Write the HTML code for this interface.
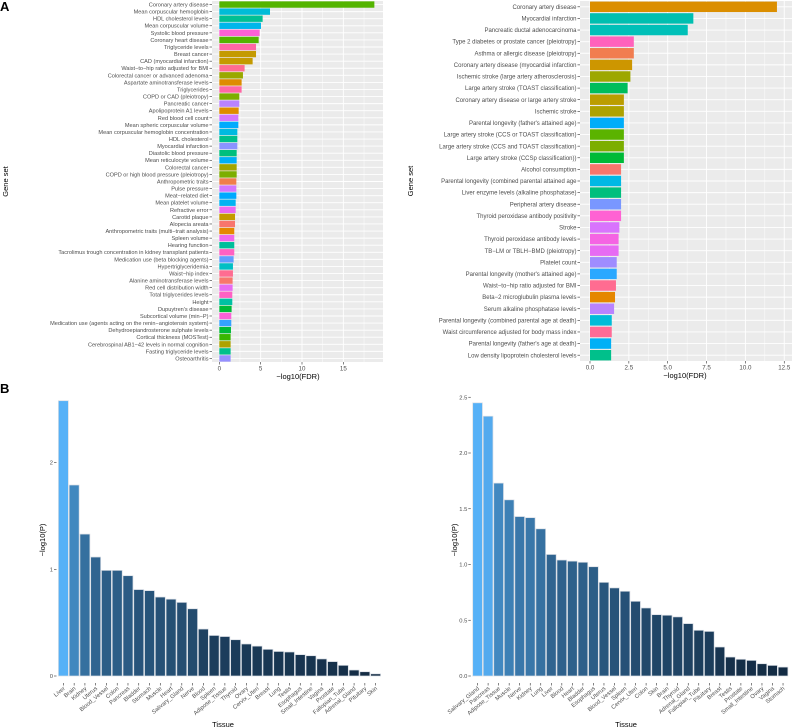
<!DOCTYPE html>
<html><head><meta charset="utf-8"><style>
html,body{margin:0;padding:0;background:#fff;}
svg{display:block;font-family:"Liberation Sans",sans-serif;}
</style></head><body>
<svg id="fig" width="792" height="728" viewBox="0 0 792 728"></svg>
<script>
// ---- Panel A left data ----
const aLeftLabels = ["Coronary artery disease","Mean corpuscular hemoglobin","HDL cholesterol levels","Mean corpuscular volume","Systolic blood pressure","Coronary heart disease","Triglyceride levels","Breast cancer","CAD (myocardial infarction)","Waist\u2212to\u2212hip ratio adjusted for BMI","Colorectal cancer or advanced adenoma","Aspartate aminotransferase levels","Triglycerides","COPD or CAD (pleiotropy)","Pancreatic cancer","Apolipoprotein A1 levels","Red blood cell count","Mean spheric corpuscular volume","Mean corpuscular hemoglobin concentration","HDL cholesterol","Myocardial infarction","Diastolic blood pressure","Mean reticulocyte volume","Colorectal cancer","COPD or high blood pressure (pleiotropy)","Anthropometric traits","Pulse pressure","Meat\u2212related diet","Mean platelet volume","Refractive error","Carotid plaque","Alopecia areata","Anthropometric traits (multi\u2212trait analysis)","Spleen volume","Hearing function","Tacrolimus trough concentration in kidney transplant patients","Medication use (beta blocking agents)","Hypertriglyceridemia","Waist\u2212hip index","Alanine aminotransferase levels","Red cell distribution width","Total triglycerides levels","Height","Dupuytren's disease","Subcortical volume (min\u2212P)","Medication use (agents acting on the renin\u2212angiotensin system)","Dehydroepiandrosterone sulphate levels","Cortical thickness (MOSTest)","Cerebrospinal AB1\u221242 levels in normal cognition","Fasting triglyceride levels","Osteoarthritis"];
const aLeftValues = [18.75,6.13,5.24,5.04,4.88,4.76,4.44,4.44,4.03,3.06,2.86,2.7,2.7,2.42,2.42,2.34,2.3,2.3,2.18,2.18,2.18,2.1,2.1,2.1,2.1,2.06,2.06,2.06,1.98,1.98,1.9,1.9,1.81,1.81,1.81,1.81,1.73,1.65,1.65,1.61,1.61,1.57,1.57,1.49,1.45,1.45,1.41,1.37,1.37,1.37,1.37];
const aLeftColors = ["#53B400","#00BCD8","#00C094","#00B6EB","#FB61D7","#53B400","#FF67A4","#C49A00","#C49A00","#FF6C91","#A58AFF".replace("#A58AFF","#99A800"),"#DE8C00","#FF67A4","#7CAE00","#B983FF","#DE8C00","#D376FF","#00ABFD","#00BAE0","#00C08B","#8B93FF","#00BF7D","#00B0F6","#A3A500","#7CAE00","#F07E4C","#D376FF","#00A9FF","#00B3F2","#E76BF3","#C49A00","#F8766D","#E58700","#EF67EB","#00BE9A","#FF61C3","#619CFF","#00BFC4","#FF6C91","#F8766D","#E76BF3","#FF61C3","#00C1A3","#00BA38","#FB61D7","#35A2FF","#00BA38","#39B600","#AEA200","#00C08B","#9590FF"];
// ---- Panel A right data ----
const aRightLabels = ["Coronary artery disease","Myocardial infarction","Pancreatic ductal adenocarcinoma","Type 2 diabetes or prostate cancer (pleiotropy)","Asthma or allergic disease (pleiotropy)","Coronary artery disease (myocardial infarction","Ischemic stroke (large artery atherosclerosis)","Large artery stroke (TOAST classification)","Coronary artery disease or large artery stroke","Ischemic stroke","Parental longevity (father's attained age)","Large artery stroke (CCS or TOAST classification)","Large artery stroke (CCS and TOAST classification)","Large artery stroke (CCSp classification))","Alcohol consumption","Parental longevity (combined parental attained age","Liver enzyme levels (alkaline phosphatase)","Peripheral artery disease","Thyroid peroxidase antibody positivity","Stroke","Thyroid peroxidase antibody levels","TB\u2212LM or TBLH\u2212BMD (pleiotropy)","Platelet count","Parental longevity (mother's attained age)","Waist\u2212to\u2212hip ratio adjusted for BMI","Beta\u22122 microglubulin plasma levels","Serum alkaline phosphatase levels","Parental longevity (combined parental age at death)","Waist circumference adjusted for body mass index","Parental longevity (father's age at death)","Low density lipoprotein cholesterol levels"];
const aRightValues = [12.03,6.65,6.29,2.82,2.82,2.71,2.6,2.42,2.18,2.18,2.18,2.18,2.18,2.18,2.0,2.0,2.0,2.0,2.0,1.89,1.84,1.84,1.72,1.72,1.67,1.61,1.55,1.4,1.4,1.36,1.36];
const aRightColors = ["#DB8E00","#00BFB0","#00C0B8","#FF62BC","#F17D50","#CD9600","#9DA700","#00BD5C","#BB9D00","#AEA200","#00ADFA","#5BB300","#7CAE00","#00BA38","#F8766D","#00B8E5","#00BF7D","#7997FF","#FF62D3","#D874FD","#F564E3","#E76BF3","#9F8CFF","#2AA8FF","#FF6C91","#E58700","#B983FF","#00BCD8","#FF6B96","#00B0F6","#00C08B"];
// ---- Panel B data ----
const bLeftTissues = ["Liver","Brain","Kidney","Uterus","Blood_Vessel","Colon","Pancreas","Bladder","Stomach","Muscle","Heart","Salivary_Gland","Nerve","Blood","Spleen","Adipose_Tissue","Thyroid","Ovary","Cervix_Uteri","Breast","Lung","Testis","Esophagus","Small_Intestine","Vagina","Prostate","Fallopian_Tube","Adrenal_Gland","Pituitary","Skin"];
const bLeftValues = [2.58,1.79,1.33,1.115,0.99,0.99,0.94,0.81,0.80,0.74,0.72,0.69,0.63,0.44,0.38,0.37,0.34,0.30,0.28,0.25,0.23,0.225,0.20,0.19,0.16,0.135,0.10,0.056,0.04,0.02];
const bLeftTicks = [0,1,2];
const bRightTissues = ["Salivary_Gland","Pancreas","Adipose_Tissue","Muscle","Nerve","Kidney","Lung","Liver","Blood","Heart","Bladder","Esophagus","Uterus","Blood_Vessel","Spleen","Cervix_Uteri","Colon","Skin","Brain","Thyroid","Adrenal_Gland","Fallopian_Tube","Pituitary","Breast","Testis","Prostate","Small_Intestine","Ovary","Vagina","Stomach"];
const bRightValues = [2.45,2.33,1.73,1.58,1.43,1.42,1.32,1.09,1.04,1.03,1.02,0.98,0.84,0.79,0.76,0.67,0.61,0.55,0.545,0.53,0.47,0.41,0.40,0.26,0.17,0.15,0.14,0.11,0.095,0.08];
const bRightTicks = ["0.0","0.5","1.0","1.5","2.0","2.5"];
const aLeftTicks = [0,5,10,15];
const aRightTicks = ["0.0","2.5","5.0","7.5","10.0","12.5"];

const NS="http://www.w3.org/2000/svg";
const svg=document.getElementById('fig');
function mk(tag,attrs,parent,text){const e=document.createElementNS(NS,tag);for(const k in attrs)e.setAttribute(k,attrs[k]);if(text!==undefined)e.textContent=text;(parent||svg).appendChild(e);return e;}

// panel letters
let t=mk('text',{x:0,y:11,'font-size':13,'font-weight':'bold',fill:'#000'},svg,'A');


t=mk('text',{x:0,y:393,'font-size':13,'font-weight':'bold',fill:'#000'},svg,'B');



function hbar(opt){
  const g=mk('g',{});
  
  
  const x=v=>opt.x0+v*opt.scale;
  const n=opt.labels.length;
  const rowH=(opt.bottom-opt.top)/n;
  const bg=mk('rect',{x:opt.left,y:opt.top,width:opt.right-opt.left,height:opt.bottom-opt.top,fill:'#EBEBEB'},g);
  
  
  // minor + major vertical grid
  for(let v=0; x(v)<=opt.right; v+=opt.step/2){
    const major=Math.abs(v/opt.step-Math.round(v/opt.step))<1e-6;
    mk('line',{x1:x(v),x2:x(v),y1:opt.top,y2:opt.bottom,stroke:'#fff','stroke-width':major?0.9:0.45},g);
  }
  for(let i=0;i<n;i++){
    const cy=opt.top+rowH*(i+0.5);
    mk('line',{x1:opt.left,x2:opt.right,y1:cy,y2:cy,stroke:'#fff','stroke-width':0.9},g);
  }
  for(let i=0;i<n;i++){
    const cy=opt.top+rowH*(i+0.5);
    const bh=rowH*0.9;
    const r=mk('rect',{x:x(0),y:cy-bh/2,width:x(opt.values[i])-x(0),height:bh,fill:opt.colors[i]},g);
    
    
    mk('line',{x1:opt.left-2.5,x2:opt.left,y1:cy,y2:cy,stroke:'#333','stroke-width':0.6},g);
    const lb=mk('text',{x:opt.left-3.5,y:cy+opt.fs*0.35,'font-size':opt.fs,fill:'#4D4D4D','text-anchor':'end'},g,opt.labels[i]);
    
    
  }
  opt.ticks.forEach(tk=>{
    const v=parseFloat(tk);
    mk('line',{x1:x(v),x2:x(v),y1:opt.bottom,y2:opt.bottom+2.5,stroke:'#333','stroke-width':0.6},g);
    const tl=mk('text',{x:x(v),y:opt.bottom+8.5,'font-size':6.2,fill:'#4D4D4D','text-anchor':'middle'},g,tk);
    
    
  });
  const xt=mk('text',{x:opt.titleX,y:opt.bottom+17,'font-size':7.5,fill:'#000','text-anchor':'middle'},g,'\u2212log10(FDR)');
  
  
  const yt=mk('text',{x:0,y:0,'font-size':7.5,fill:'#000','text-anchor':'middle',transform:`translate(${opt.ytX},${(opt.top+opt.bottom)/2}) rotate(-90)`},g,'Gene set');
  
  
}
hbar({name:'panel-a-left-chart',labels:aLeftLabels,values:aLeftValues,colors:aLeftColors,ticks:aLeftTicks.map(String),left:212,right:383,top:1,bottom:362,x0:219.3,scale:8.27,step:5,fs:5.6,titleX:298,ytX:8});
hbar({name:'panel-a-right-chart',labels:aRightLabels,values:aRightValues,colors:aRightColors,ticks:aRightTicks,left:580,right:792,top:1,bottom:361,x0:590,scale:15.54,step:2.5,fs:6,titleX:685,ytX:413});

function lerp(a,b,f){return Math.round(a+(b-a)*f);}
function colFor(v,mn,mx){const f=(v-mn)/(mx-mn);const lo=[0x13,0x2B,0x43],hi=[0x56,0xB1,0xF7];return `rgb(${lerp(lo[0],hi[0],f)},${lerp(lo[1],hi[1],f)},${lerp(lo[2],hi[2],f)})`;}

function vbar(opt){
  const g=mk('g',{});
  
  
  const y=v=>opt.y0-v*opt.scale;
  const n=opt.tissues.length;
  const bw=(opt.right-opt.left)/n;
  const mn=Math.min(...opt.values),mx=Math.max(...opt.values);
  for(let i=0;i<n;i++){
    const v=opt.values[i];
    const r=mk('rect',{x:opt.left+bw*i+0.4,y:y(v),width:bw-0.8,height:y(0)-y(v),fill:colFor(v,mn,mx),stroke:'#D9DEE5','stroke-width':0.7},g);
    
    
    const cx=opt.left+bw*(i+0.5);
    mk('line',{x1:cx,x2:cx,y1:opt.y0+7,y2:opt.y0+9.5,stroke:'#333','stroke-width':0.6},g);
    const lb=mk('text',{x:0,y:0,'font-size':5.8,fill:'#4D4D4D','text-anchor':'end',transform:`translate(${cx+2},${opt.y0+13}) rotate(-40)`},g,opt.tissues[i]);
    
    
  }
  opt.ticks.forEach(tk=>{
    const v=parseFloat(tk);
    mk('line',{x1:opt.left-4,x2:opt.left-1.5,y1:y(v),y2:y(v),stroke:'#333','stroke-width':0.6},g);
    const tl=mk('text',{x:opt.left-5,y:y(v)+2,'font-size':5.8,fill:'#4D4D4D','text-anchor':'end'},g,tk);
    
    
  });
  const xt=mk('text',{x:opt.titleX,y:727,'font-size':7.5,fill:'#000','text-anchor':'middle'},g,'Tissue');
  
  
  const yt=mk('text',{x:0,y:0,'font-size':7.5,fill:'#000','text-anchor':'middle',transform:`translate(${opt.ytX},${opt.ytY}) rotate(-90)`},g,'\u2212log10(P)');
  
  
}
vbar({name:'panel-b-left-chart',tissues:bLeftTissues,values:bLeftValues,ticks:bLeftTicks.map(String),left:58,right:381,y0:676,scale:106.7,titleX:223,ytX:45,ytY:540});
vbar({name:'panel-b-right-chart',tissues:bRightTissues,values:bRightValues,ticks:bRightTicks,left:472.3,right:788.3,y0:676,scale:111.5,titleX:626,ytX:457,ytY:540});
</script>
</body></html>
